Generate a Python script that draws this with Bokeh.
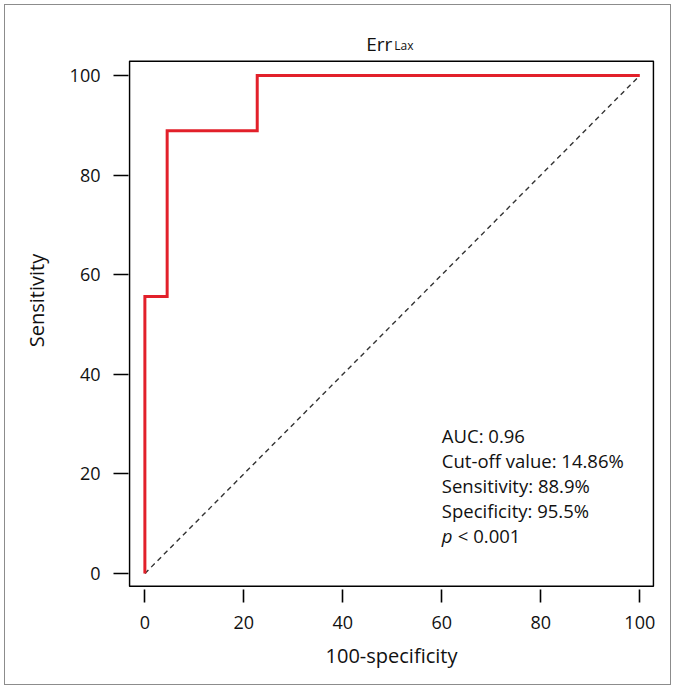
from bokeh.plotting import figure
from bokeh.models import Range1d, FixedTicker, BoxAnnotation
from bokeh.core.properties import value
from bokeh.embed import file_html
from bokeh.resources import INLINE

# ---- data ----
roc_fpr = [0, 0, 4.5, 4.5, 22.7, 22.7, 100]
roc_tpr = [0, 55.6, 55.6, 88.9, 88.9, 100, 100]
ref_x = [0, 100]
ref_y = [0, 100]
tick_values = [0, 20, 40, 60, 80, 100]
stats_lines = ["AUC: 0.96", "Cut-off value: 14.86%", "Sensitivity: 88.9%", "Specificity: 95.5%"]
p_symbol = "p"
p_value_text = "< 0.001"
title_main = "Err"
title_sub = "Lax"
x_label = "100-specificity"
y_label = "Sensitivity"

FONT = "Open Sans"
TXT = "#111111"

# plotting box (axes box) limits, in data units
BOX_L, BOX_R, BOX_B, BOX_T = -3.11, 102.77, -2.55, 102.87

p = figure(width=667, height=681, output_backend="svg", toolbar_location=None,
           x_range=Range1d(-3.31, 102.97), y_range=Range1d(-2.81, 112.45),
           min_border_left=123, min_border_right=18, min_border_top=8, min_border_bottom=99,
           styles={"border": "1px solid #8c8c8c", "margin": "4px 0 0 4px"})
p.background_fill_color = "white"
p.border_fill_color = "white"
p.outline_line_color = None
p.xgrid.grid_line_color = None
p.ygrid.grid_line_color = None

for ax in (p.xaxis[0], p.yaxis[0]):
    ax.ticker = FixedTicker(ticks=tick_values)
    ax.axis_line_color = None
    ax.major_tick_line_color = "black"
    ax.major_tick_line_width = 1.6
    ax.minor_tick_line_color = None
    ax.major_label_text_font = FONT
    ax.major_label_text_font_size = "18px"
    ax.major_label_text_color = TXT
    ax.axis_label_text_font = FONT
    ax.axis_label_text_font_size = "20px"
    ax.axis_label_text_font_style = "normal"
    ax.axis_label_text_color = TXT

p.xaxis.axis_label = x_label
p.yaxis.axis_label = y_label
p.xaxis.major_tick_in = -2
p.xaxis.major_tick_out = 15
p.xaxis.major_label_standoff = 13
p.xaxis.axis_label_standoff = 10
p.yaxis.major_tick_in = 0
p.yaxis.major_tick_out = 15
p.yaxis.major_label_standoff = 13
p.yaxis.axis_label_standoff = 17

# axes box
p.add_layout(BoxAnnotation(left=BOX_L, right=BOX_R, bottom=BOX_B, top=BOX_T,
                           fill_color=None, fill_alpha=0, line_color="black",
                           line_alpha=1.0, line_width=1.6))

# reference diagonal
p.line(ref_x, ref_y, line_color="#333333", line_width=1.4, line_dash="5 4")
# ROC curve
p.line(roc_fpr, roc_tpr, line_color="#e2202a", line_width=3.0, line_join="miter")

# stats text block
tx = 60.0
ty0 = 27.7
dy = 5.02
fs = "18.5px"
p.text(x=[tx] * len(stats_lines), y=[ty0 - dy * i for i in range(len(stats_lines))],
       text=stats_lines, text_font=value(FONT), text_font_size=fs,
       text_color=TXT, text_baseline="middle", text_align="left")
yp = ty0 - dy * len(stats_lines)
p.text(x=[tx], y=[yp], text=[p_symbol], text_font=value(FONT), text_font_size=fs,
       text_font_style="italic", text_color=TXT, text_baseline="middle", text_align="left")
p.text(x=[tx], y=[yp], text=[p_value_text], x_offset=16, text_font=value(FONT),
       text_font_size=fs, text_color=TXT, text_baseline="middle", text_align="left")

# title with subscript
p.text(x=[50], y=[106.4], text=[title_main], text_font=value(FONT), text_font_size="19px",
       text_color=TXT, text_align="right", text_baseline="alphabetic")
p.text(x=[50], y=[106.0], x_offset=2, text=[title_sub], text_font=value(FONT),
       text_font_size="12px", text_color=TXT, text_align="left", text_baseline="alphabetic")

open("out.html", "w").write(file_html(p, INLINE))
